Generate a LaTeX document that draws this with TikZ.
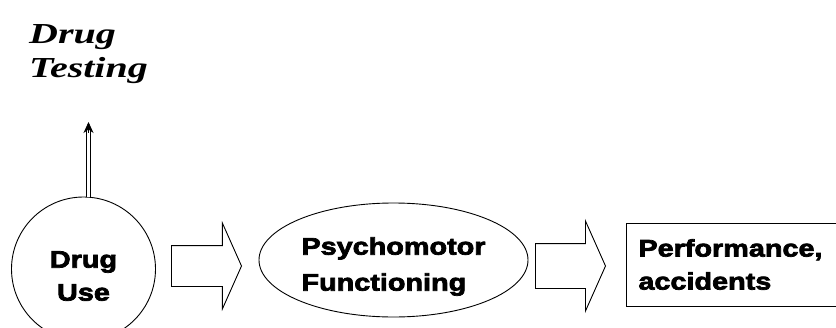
\documentclass[tikz,border=0pt]{standalone}
\usepackage{fontspec}
\usetikzlibrary{positioning,shapes.geometric,shapes.arrows,arrows.meta}
\newfontfamily\boxfont[FakeStretch=1.2,BoldFeatures={FakeBold=3}]{Liberation Sans}
\newfontfamily\notefont[FakeStretch=1.38,BoldFeatures={FakeBold=2}]{Liberation Serif}
\newcommand\dropline[2][6pt]{\raisebox{-#1}[\height][\depth]{#2}}

\tikzset{
  outline/.style={draw=black, line width=0.9pt},
  boxtext/.style={font=\boxfont\bfseries\fontsize{24}{33}\selectfont, align=left, inner sep=0pt},
  blockarrow/.style={outline, single arrow, single arrow head extend=22.5pt, single arrow tip angle=132, single arrow head indent=0pt, inner sep=0pt, minimum height=70pt, anchor=tip},
  stem/.style={double, double distance=3pt, line width=0.7pt, shorten >=7pt},
  stemtip/.style={line width=0.8pt, shorten <=64pt, -{Stealth[length=11pt,width=10pt]}},
}

\begin{document}
\begin{tikzpicture}[x=1pt,y=1pt,yscale=-1,xscale=1]
\useasboundingbox (0,0) rectangle (836,327);
\fill[white] (0,0) rectangle (836,327);
\clip (0,0) rectangle (836,327);

% Text Node
\node [font=\notefont\bfseries\itshape\fontsize{29}{34}\selectfont, align=left, inner sep=0pt, anchor=north west] (test) at (29,24) {Drug\\Testing};

%Circle
\node [outline, circle, minimum size=144pt, boxtext, align=center] (use) at (83.5,269) {\dropline[7pt]{Drug}\\\dropline[7pt]{Use}};
%Ellipse
\node [outline, ellipse, minimum width=269pt, minimum height=114pt, boxtext] (psy) at (393.5,260) {\dropline[5pt]{Psychomotor}\\\dropline[8pt]{Functioning}};
%Shape: Rectangle
\node [outline, boxtext, rectangle, anchor=west, minimum height=83pt, text width=200pt, inner xsep=12pt] (perf) at (626,264.5) {Performance,\\accidents};

%Shape: Right Arrow
\node [blockarrow] (usepsy) at (242,266) {\rule{0pt}{40pt}};
%Shape: Right Arrow
\node [blockarrow] (psyperf) at (606,266) {\rule{0pt}{44pt}};

%Straight Lines
\coordinate (testtip) at (88.5,122);
\draw [stem] (use.north -| testtip) -- (testtip);
\draw [stemtip] (use.north -| testtip) -- (testtip);

\end{tikzpicture}
\end{document}
